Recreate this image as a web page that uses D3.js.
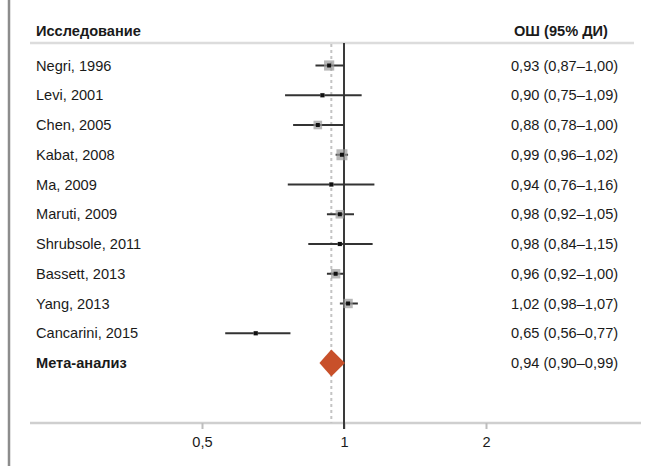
<!DOCTYPE html>
<html><head><meta charset="utf-8">
<script src="https://cdn.jsdelivr.net/npm/d3@7/dist/d3.min.js"></script>
<style>
html,body{margin:0;padding:0;background:#fff;}
svg text{font-family:"Liberation Sans",Arial,Helvetica,sans-serif;fill:#1a1a1a;}
</style></head>
<body><svg id="c" width="646" height="466"></svg>
<script>
const studies = ["Negri, 1996","Levi, 2001","Chen, 2005","Kabat, 2008","Ma, 2009","Maruti, 2009","Shrubsole, 2011","Bassett, 2013","Yang, 2013","Cancarini, 2015"];
const orValues = [0.93,0.90,0.88,0.99,0.94,0.98,0.98,0.96,1.02,0.65];
const ciLow =    [0.87,0.75,0.78,0.96,0.76,0.92,0.84,0.92,0.98,0.56];
const ciHigh =   [1.00,1.09,1.00,1.02,1.16,1.05,1.15,1.00,1.07,0.77];
const weights =  [9,2,7,10,2,7,2,8,8,2];
const metaLabel = "Мета-анализ";
const metaOR = 0.94, metaLow = 0.90, metaHigh = 0.99;
const headerStudy = "Исследование";
const headerOR = "ОШ (95% ДИ)";
const tickValues = [0.5,1,2];
const tickLabels = ["0,5","1","2"];

const fmt = v => v.toFixed(2).replace(".", ",");
const svg = d3.select("#c");
const FS = 14.6;

const x = d3.scaleLog().base(2).domain([0.5,2]).range([202,486]);
const rows = studies.concat([metaLabel]);
const y = d3.scalePoint().domain(rows).range([65.5,363]);
const sz = d3.scaleLinear().domain([0,10]).range([3,11]);

// left border
svg.append("line").attr("x1",9).attr("x2",9).attr("y1",0).attr("y2",466)
  .attr("stroke","#8c8c8c").attr("stroke-width",2.5);

// header
svg.append("text").attr("x",36).attr("y",31).attr("dy","0.35em")
  .attr("font-weight","bold").attr("font-size",14.6).text(headerStudy);
svg.append("text").attr("x",514).attr("y",31).attr("dy","0.35em")
  .attr("font-weight","bold").attr("font-size",14.6).text(headerOR);
svg.append("line").attr("x1",30).attr("x2",634).attr("y1",43).attr("y2",43)
  .attr("stroke","#dcdcdc").attr("stroke-width",2.5);

// axis
const axisY = 423;
svg.append("line").attr("x1",30).attr("x2",641).attr("y1",axisY).attr("y2",axisY)
  .attr("stroke","#cfcfcf").attr("stroke-width",2.5);
const ax = svg.append("g").attr("transform",`translate(0,${axisY})`)
  .call(d3.axisBottom(x).tickValues(tickValues).tickSize(6).tickPadding(8)
    .tickFormat((d,i)=>tickLabels[i]));
ax.select(".domain").remove();
ax.selectAll(".tick line").attr("stroke","#bdbdbd").attr("stroke-width",2);
ax.selectAll(".tick text").attr("font-size",FS).attr("fill","#1a1a1a")
  .attr("font-family","Liberation Sans, Arial, sans-serif");

// dotted meta line
svg.append("line").attr("x1",x(metaOR)).attr("x2",x(metaOR)).attr("y1",44).attr("y2",axisY)
  .attr("stroke","#c4c4c4").attr("stroke-width",2).attr("stroke-dasharray","3,3");
// null line
svg.append("line").attr("x1",x(1)).attr("x2",x(1)).attr("y1",43).attr("y2",axisY+6)
  .attr("stroke","#3a3a3a").attr("stroke-width",2);

// studies
const g = svg.append("g");
studies.forEach((s,i)=>{
  const yy = y(s);
  g.append("line").attr("x1",x(ciLow[i])).attr("x2",x(ciHigh[i])).attr("y1",yy).attr("y2",yy)
    .attr("stroke","#333").attr("stroke-width",2);
  const w = sz(weights[i]);
  g.append("rect").attr("x",x(orValues[i])-w/2).attr("y",yy-w/2).attr("width",w).attr("height",w)
    .attr("fill","#9a9a9a").attr("opacity",0.7);
  g.append("rect").attr("x",x(orValues[i])-2).attr("y",yy-2).attr("width",4).attr("height",4)
    .attr("fill","#111");
  g.append("text").attr("x",36).attr("y",yy).attr("dy","0.35em").attr("font-size",FS).text(s);
  g.append("text").attr("x",511).attr("y",yy).attr("dy","0.35em").attr("font-size",FS)
    .text(`${fmt(orValues[i])} (${fmt(ciLow[i])}–${fmt(ciHigh[i])})`);
});

// meta
const my = y(metaLabel);
const dh = 13.5;
svg.append("path")
  .attr("d",`M${x(metaLow)-3},${my} L${x(metaOR)},${my-dh} L${x(metaHigh)+3},${my} L${x(metaOR)},${my+dh} Z`)
  .attr("fill","#c8502a");
svg.append("text").attr("x",36).attr("y",my).attr("dy","0.35em").attr("font-size",FS)
  .attr("font-weight","bold").text(metaLabel);
svg.append("text").attr("x",511).attr("y",my).attr("dy","0.35em").attr("font-size",FS)
  .text(`${fmt(metaOR)} (${fmt(metaLow)}–${fmt(metaHigh)})`);
</script></body></html>
